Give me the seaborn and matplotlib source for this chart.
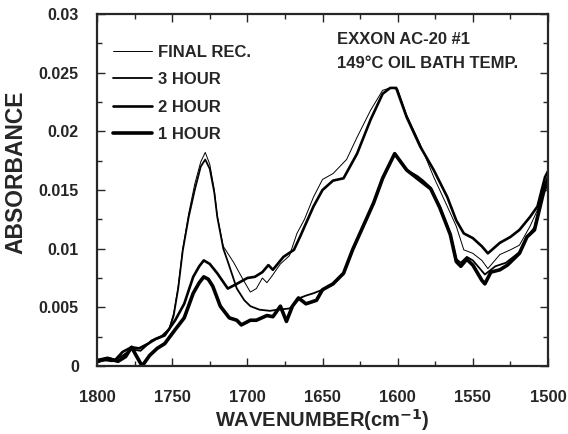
import numpy as np
import pandas as pd
import matplotlib
matplotlib.use("Agg")
import matplotlib.pyplot as plt
import seaborn as sns
from matplotlib.ticker import MultipleLocator, FuncFormatter
from matplotlib.lines import Line2D

# valeurs (nombre d'onde en cm-1, absorbance)
wn_final = [1800, 1795, 1790, 1784, 1777, 1771, 1764, 1757, 1752, 1749, 1746, 1743, 1739, 1735,
            1731, 1728, 1725, 1722, 1720, 1716, 1709, 1703, 1698, 1694, 1690, 1687, 1684, 1678,
            1672, 1667, 1662, 1656, 1650, 1643, 1634, 1627, 1618, 1610, 1605, 1600, 1594, 1585,
            1576, 1567, 1561, 1556, 1550, 1544, 1540, 1532, 1525, 1519, 1512, 1507, 1502, 1500]
abs_final = [0.0004, 0.0005, 0.0004, 0.0008, 0.0014, 0.0013, 0.0022, 0.0026, 0.0032, 0.0045,
             0.0068, 0.0100, 0.0130, 0.0155, 0.0174, 0.0182, 0.0172, 0.0150, 0.0128, 0.0102,
             0.0088, 0.0074, 0.0063, 0.0066, 0.0075, 0.0071, 0.0076, 0.0087, 0.0094, 0.0113,
             0.0125, 0.0144, 0.0159, 0.0164, 0.0176, 0.0195, 0.0218, 0.0235, 0.0237, 0.0236,
             0.0214, 0.0189, 0.0161, 0.0136, 0.0119, 0.0099, 0.0096, 0.0090, 0.0083, 0.0095,
             0.0099, 0.0103, 0.0119, 0.0133, 0.0156, 0.0162]

wn_3h = [1800, 1795, 1790, 1784, 1777, 1771, 1764, 1757, 1752, 1749, 1746, 1743, 1739, 1735,
         1731, 1728, 1725, 1722, 1720, 1716, 1713, 1707, 1702, 1698, 1692, 1685, 1680, 1672,
         1667, 1665, 1661, 1656, 1650, 1643, 1636, 1630, 1623, 1616, 1610, 1602, 1594, 1587,
         1583, 1578, 1572, 1565, 1561, 1558, 1554, 1550, 1542, 1535, 1528, 1519, 1514, 1509,
         1503, 1500]
abs_3h = [0.0003, 0.0005, 0.0004, 0.0008, 0.0014, 0.0013, 0.0021, 0.0025, 0.0031, 0.0043,
          0.0066, 0.0098, 0.0127, 0.0150, 0.0170, 0.0176, 0.0168, 0.0148, 0.0127, 0.0100,
          0.0089, 0.0066, 0.0056, 0.0051, 0.0048, 0.0047, 0.0048, 0.0049, 0.0055, 0.0058,
          0.0060, 0.0062, 0.0065, 0.0070, 0.0079, 0.0099, 0.0119, 0.0139, 0.0161, 0.0181,
          0.0167, 0.0162, 0.0158, 0.0152, 0.0136, 0.0113, 0.0091, 0.0088, 0.0093, 0.0090,
          0.0078, 0.0085, 0.0088, 0.0097, 0.0110, 0.0118, 0.0150, 0.0162]

wn_2h = [1800, 1793, 1788, 1783, 1777, 1772, 1766, 1761, 1755, 1748, 1742, 1736, 1732, 1729,
         1725, 1720, 1713, 1707, 1700, 1695, 1690, 1686, 1683, 1676, 1669, 1665, 1656, 1650,
         1643, 1636, 1627, 1618, 1610, 1605, 1601, 1594, 1585, 1576, 1567, 1561, 1556, 1550,
         1544, 1540, 1532, 1525, 1519, 1512, 1507, 1502, 1500]
abs_2h = [0.0005, 0.0007, 0.0005, 0.0012, 0.0016, 0.0015, 0.0019, 0.0023, 0.0026, 0.0039,
          0.0053, 0.0076, 0.0085, 0.0090, 0.0087, 0.0079, 0.0066, 0.0070, 0.0075, 0.0076,
          0.0080, 0.0086, 0.0082, 0.0093, 0.0099, 0.0110, 0.0136, 0.0150, 0.0158, 0.0160,
          0.0181, 0.0210, 0.0232, 0.0237, 0.0237, 0.0212, 0.0187, 0.0167, 0.0144, 0.0124,
          0.0113, 0.0109, 0.0102, 0.0096, 0.0105, 0.0110, 0.0116, 0.0127, 0.0136, 0.0161,
          0.0166]

wn_1h = [1800, 1797, 1792, 1786, 1781, 1777, 1774, 1770, 1765, 1760, 1755, 1748, 1742, 1736,
         1732, 1729, 1726, 1723, 1718, 1712, 1707, 1704, 1698, 1694, 1687, 1683, 1678, 1674,
         1670, 1666, 1661, 1654, 1650, 1643, 1636, 1630, 1623, 1616, 1610, 1602, 1594, 1587,
         1583, 1578, 1572, 1565, 1561, 1558, 1554, 1550, 1544, 1542, 1538, 1532, 1527, 1519,
         1514, 1509, 1503, 1500]
abs_1h = [0.0004, 0.0005, 0.0006, 0.0004, 0.0008, 0.0016, 0.0009, 0.0000, 0.0009, 0.0015,
          0.0019, 0.0031, 0.0041, 0.0062, 0.0071, 0.0076, 0.0074, 0.0068, 0.0051, 0.0041,
          0.0039, 0.0035, 0.0039, 0.0039, 0.0043, 0.0042, 0.0051, 0.0038, 0.0051, 0.0058,
          0.0053, 0.0056, 0.0065, 0.0070, 0.0079, 0.0099, 0.0119, 0.0139, 0.0160, 0.0181,
          0.0167, 0.0160, 0.0156, 0.0151, 0.0135, 0.0112, 0.0089, 0.0085, 0.0091, 0.0086,
          0.0073, 0.0070, 0.0080, 0.0082, 0.0086, 0.0096, 0.0110, 0.0116, 0.0148, 0.0158]

labels = ["FINAL REC.", "3 HOUR", "2 HOUR", "1 HOUR"]
widths = [0.7, 1.3, 1.9, 2.6]

sns.set_style("ticks")
plt.rcParams["font.family"] = ["Liberation Sans", "DejaVu Sans"]
plt.rcParams["font.weight"] = "bold"

fig = plt.figure(figsize=(5.68, 4.34), dpi=100)
ax = fig.add_axes([0.1708, 0.1567, 0.794, 0.811])

series = [(wn_final, abs_final), (wn_3h, abs_3h), (wn_2h, abs_2h), (wn_1h, abs_1h)]
for (wn, ab), lab, lw in zip(series, labels, widths):
    df = pd.DataFrame({"wn": wn, "abs": ab})
    sns.lineplot(data=df, x="wn", y="abs", ax=ax, color="black", lw=lw,
                 sort=False, estimator=None)

ax.set_xlim(1800, 1500)
ax.set_ylim(0, 0.03)
ax.xaxis.set_major_locator(MultipleLocator(50))
ax.xaxis.set_minor_locator(MultipleLocator(25))
ax.yaxis.set_major_locator(MultipleLocator(0.005))
ax.yaxis.set_minor_locator(MultipleLocator(0.0025))
ax.yaxis.set_major_formatter(FuncFormatter(lambda v, p: "%g" % round(v, 4)))
ax.tick_params(which="both", direction="in", top=True, right=True, width=1)
ax.tick_params(which="major", length=6)
ax.tick_params(which="minor", length=3.5)
ax.tick_params(axis="x", labelsize=12, pad=17)
ax.tick_params(axis="y", labelsize=11.5, pad=13)
for s in ax.spines.values():
    s.set_linewidth(1.6)

ax.set_xlabel("WAVENUMBER(cm$^{\\mathbf{-1}}$)", fontsize=14.5, fontweight="bold", labelpad=2)
ax.set_ylabel("ABSORBANCE", fontsize=16.5, fontweight="bold")
ax.yaxis.set_label_coords(-0.155, 0.55)

handles = [Line2D([], [], color="black", lw=lw) for lw in widths]
ax.legend(handles, labels, loc="upper left", bbox_to_anchor=(0.0355, 0.913), frameon=False,
          prop={"weight": "bold", "size": 12}, handlelength=2.35, handletextpad=0.36,
          labelspacing=0.75, borderpad=0, borderaxespad=0)

ax.text(0.532, 0.929, "EXXON AC-20 #1", transform=ax.transAxes, fontsize=12,
        fontweight="bold", va="center")
ax.text(0.532, 0.858, "149°C OIL BATH TEMP.", transform=ax.transAxes, fontsize=12,
        fontweight="bold", va="center")

fig.savefig("out.png", dpi=100)
